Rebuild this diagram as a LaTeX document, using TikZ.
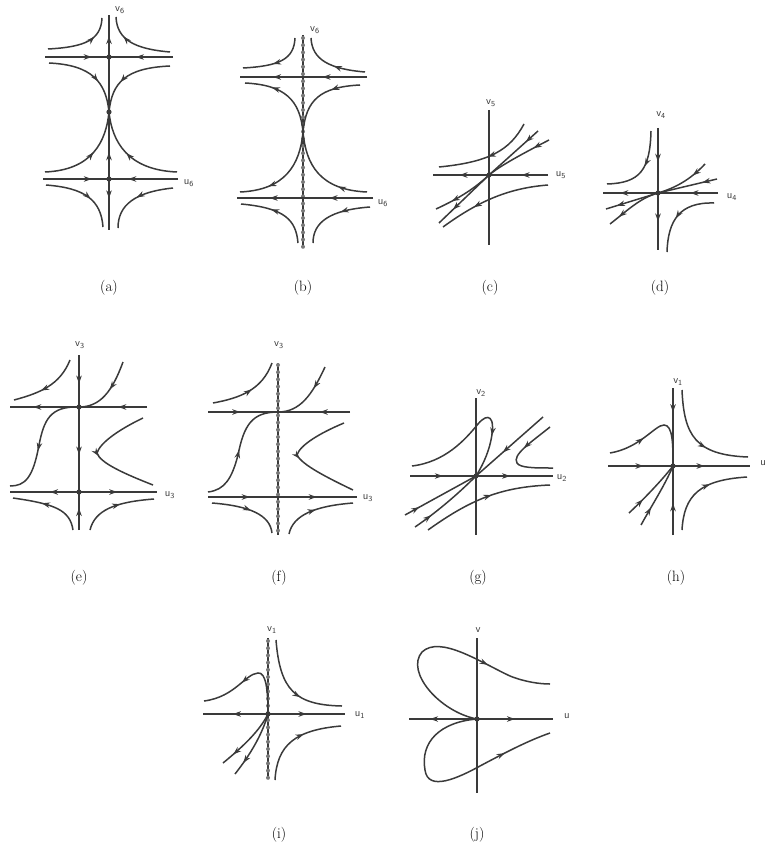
\documentclass[tikz,border=0pt]{standalone}
\usepackage{tikz}
\usetikzlibrary{arrows.meta,decorations.markings}
\definecolor{ink}{HTML}{3A3A3A}
\definecolor{bead}{HTML}{7A7A7A}

\begin{document}
\begin{tikzpicture}[x=1pt,y=-1pt,
			traj/.style={color=ink,line width=1.5pt},
			midarr/.style={postaction={decorate,decoration={markings,mark=at position #1 with {\arrow{Stealth[length=8pt,width=5.5pt,inset=2.5pt]}}}}},
			axlab/.style={font=\fontsize{11}{12}\sffamily\selectfont,text=ink,inner sep=1pt},
			captxt/.style={font=\fontsize{15}{17}\selectfont,inner sep=1pt}
			]
			\useasboundingbox (0,0) rectangle (767,853);
			% (a)
			\coordinate (aO) at (109,112);
			\coordinate (aT) at (109,57);
			\coordinate (aB) at (109,179);
			\draw[traj,midarr=0.5] (aT) -- (109,15);
			\draw[traj] (aT) -- (aO);
			\draw[traj,midarr=0.4] (aB) -- (aO);
			\draw[traj,midarr=0.38] (aB) -- (109,230);
			\draw[traj,midarr=0.73] (45,57) -- (aT);
			\draw[traj,midarr=0.58] (173,57) -- (aT);
			\draw[traj,midarr=0.74] (43,179) -- (aB);
			\draw[traj,midarr=0.72] (178,179) -- (aB);
			\draw[traj,midarr=0.7] (48,49) .. controls (85,47) and (101,40) .. (102,18);
			\draw[traj,midarr=0.7] (170,52) .. controls (135,49) and (117,40) .. (116,17);
			\draw[traj,midarr=0.62] (49,63) .. controls (92,65) and (106,82) .. (aO);
			\draw[traj,midarr=0.62] (170,66) .. controls (126,68) and (112,82) .. (aO);
			\draw[traj,midarr=0.55] (45,172) .. controls (92,170) and (106,142) .. (aO);
			\draw[traj,midarr=0.55] (177,172) .. controls (128,170) and (112,142) .. (aO);
			\draw[traj,midarr=0.6] (46,185) .. controls (85,188) and (101,200) .. (103,227);
			\draw[traj,midarr=0.5] (173,188) .. controls (135,192) and (118,205) .. (118,228);
			\foreach \p in {aO,aT,aB} \fill[ink] (\p) circle (2.6pt);
			\node[axlab] (va) at (120,10) {v\textsubscript{6}};
			\node[axlab] (ua) at (189,183) {u\textsubscript{6}};
			\node[captxt] (capa) at (109,288) {(a)};
			% (b)
			\coordinate (bO) at (303,132);
			\draw[traj] (303,35) -- (303,248);
			\foreach \k in {0,...,29} \fill[bead] (303,38+7.2*\k) circle (2pt);
			\draw[traj,midarr=0.35,midarr=0.74] (367,77) -- (240,77);
			\draw[traj,midarr=0.32,midarr=0.76] (373,198) -- (237,198);
			\draw[traj,midarr=0.55] (295,38) .. controls (294,59) and (280,66) .. (243,68);
			\draw[traj,midarr=0.45] (365,72) .. controls (330,69) and (312,60) .. (311,38);
			\draw[traj,midarr=0.68] (bO) .. controls (300,100) and (285,85) .. (245,83);
			\draw[traj,midarr=0.35] (360,85) .. controls (320,87) and (306,100) .. (bO);
			\draw[traj,midarr=0.7] (bO) .. controls (300,165) and (285,190) .. (240,192);
			\draw[traj,midarr=0.3] (367,192) .. controls (320,190) and (306,165) .. (bO);
			\draw[traj,midarr=0.6] (298,243) .. controls (296,220) and (285,208) .. (241,204);
			\draw[traj,midarr=0.4] (370,207) .. controls (330,210) and (313,222) .. (313,243);
			\node[axlab] (vb) at (315,30) {v\textsubscript{6}};
			\node[axlab] (ub) at (383,203) {u\textsubscript{6}};
			\node[captxt] (capb) at (303,288) {(b)};
			% (c)
			\coordinate (cO) at (489,175);
			\draw[traj] (489,110) -- (489,245);
			\draw[traj,midarr=0.23,midarr=0.77] (548,175) -- (433,175);
			\draw[traj,midarr=0.5] (524,124) .. controls (510,150) and (490,162) .. (439,167);
			\draw[traj,midarr=0.68] (548,185) .. controls (510,188) and (480,200) .. (443,227);
			\draw[traj,midarr=0.25] (538,131) -- (cO);
			\draw[traj,midarr=0.72] (cO) -- (439,223);
			\draw[traj,midarr=0.25] (549,140) .. controls (520,155) and (500,166) .. (cO);
			\draw[traj,midarr=0.72] (cO) .. controls (475,188) and (460,198) .. (436,209);
			\fill[ink] (cO) circle (2.6pt);
			\node[axlab] (vc) at (491,103) {v\textsubscript{5}};
			\node[axlab] (uc) at (561,175) {u\textsubscript{5}};
			\node[captxt] (capc) at (490,288) {(c)};
			% (d)
			\coordinate (dO) at (658,193);
			\draw[traj,midarr=0.52] (658,128) -- (dO);
			\draw[traj,midarr=0.5] (dO) -- (658,250);
			\draw[traj,midarr=0.24,midarr=0.85] (718,193) -- (603,193);
			\draw[traj,midarr=0.45] (651,131) .. controls (650,170) and (640,183) .. (607,184);
			\draw[traj,midarr=0.55] (714,203) .. controls (680,202) and (668,220) .. (667,252);
			\draw[traj,midarr=0.25] (717,179) -- (dO);
			\draw[traj,midarr=0.79] (dO) -- (606,209);
			\draw[traj,midarr=0.3] (705,164) .. controls (690,180) and (675,188) .. (dO);
			\draw[traj,midarr=0.8] (dO) .. controls (640,198) and (628,210) .. (610,224);
			\fill[ink] (dO) circle (2.6pt);
			\node[axlab] (vd) at (661,115) {v\textsubscript{4}};
			\node[axlab] (ud) at (732,197) {u\textsubscript{4}};
			\node[captxt] (capd) at (660,288) {(d)};
			% (e)
			\coordinate (eU) at (79,407);
			\coordinate (eL) at (79,492);
			\draw[traj,midarr=0.55] (79,355) -- (eU);
			\draw[traj,midarr=0.56] (eU) -- (eL);
			\draw[traj,midarr=0.58] (79,530) -- (eL);
			\draw[traj,midarr=0.21,midarr=0.83] (147,407) -- (10,407);
			\draw[traj,midarr=0.42] (eL) -- (10,492);
			\draw[traj,midarr=0.49] (eL) -- (157,492);
			\draw[traj,midarr=0.6] (70,360) .. controls (60,385) and (40,393) .. (14,400);
			\draw[traj,midarr=0.45] (123,362) .. controls (112,392) and (100,407) .. (eU);
			\draw[traj,midarr=0.58] (eU) .. controls (50,406) and (44,420) .. (39,445) .. controls (33,478) and (25,486) .. (10,486);
			\draw[traj,midarr=0.5] (143,418) .. controls (118,430) and (100,443) .. (97,453) .. controls (100,463) and (125,474) .. (153,485);
			\draw[traj,midarr=0.6] (73,530) .. controls (70,510) and (55,504) .. (13,498);
			\draw[traj,midarr=0.55] (90,530) .. controls (95,510) and (115,502) .. (154,499);
			\foreach \p in {eU,eL} \fill[ink] (\p) circle (2.6pt);
			\node[axlab] (ve) at (80,345) {v\textsubscript{3}};
			\node[axlab] (ue) at (170,495) {u\textsubscript{3}};
			\node[captxt] (cape) at (79,578) {(e)};
			% (f)
			\coordinate (fU) at (278,412);
			\coordinate (fL) at (278,497);
			\draw[traj] (278,363) -- (278,535);
			\foreach \k in {0,...,23} \fill[bead] (278,365+7.2*\k) circle (2pt);
			\draw[traj,midarr=0.46] (208,412) -- (fU);
			\draw[traj,midarr=0.42] (350,412) -- (fU);
			\draw[traj,midarr=0.28,midarr=0.73] (208,497) -- (357,497);
			\draw[traj,midarr=0.55] (213,403) .. controls (240,398) and (262,390) .. (272,363);
			\draw[traj,midarr=0.35] (325,367) .. controls (312,395) and (300,412) .. (fU);
			\draw[traj,midarr=0.48] (208,492) .. controls (225,490) and (232,478) .. (238,455) .. controls (244,425) and (252,412) .. (fU);
			\draw[traj,midarr=0.5] (344,423) .. controls (320,433) and (300,445) .. (297,455) .. controls (302,465) and (328,478) .. (353,490);
			\draw[traj,midarr=0.55] (212,503) .. controls (250,506) and (270,515) .. (272,533);
			\draw[traj,midarr=0.5] (289,534) .. controls (293,515) and (315,506) .. (353,503);
			\node[axlab] (vf) at (279,345) {v\textsubscript{3}};
			\node[axlab] (uf) at (368,498) {u\textsubscript{3}};
			\node[captxt] (capf) at (279,578) {(f)};
			% (g)
			\coordinate (gO) at (476,476);
			\draw[traj] (476,398) -- (476,535);
			\draw[traj,midarr=0.23,midarr=0.7] (410,476) -- (553,476);
			\draw[traj,midarr=0.72] (412,466) .. controls (445,462) and (465,440) .. (478,424) .. controls (488,412) and (496,416) .. (491,440) .. controls (488,455) and (481,468) .. (gO);
			\draw[traj,midarr=0.6] (543,417) -- (gO);
			\draw[traj,midarr=0.2] (405,515) -- (gO);
			\draw[traj,midarr=0.25] (415,527) .. controls (440,510) and (462,490) .. (gO);
			\draw[traj,midarr=0.55] (428,530) .. controls (470,500) and (500,487) .. (550,485);
			\draw[traj,midarr=0.38] (550,427) .. controls (530,443) and (512,455) .. (517,463) .. controls (520,468) and (535,468) .. (553,468);
			\fill[ink] (gO) circle (2.6pt);
			\node[axlab] (vg) at (481,393) {v\textsubscript{2}};
			\node[axlab] (ug) at (562,478) {u\textsubscript{2}};
			\node[captxt] (capg) at (478,578) {(g)};
			% (h)
			\coordinate (hO) at (673,466);
			\draw[traj,midarr=0.31] (673,388) -- (hO);
			\draw[traj,midarr=0.46] (673,535) -- (hO);
			\draw[traj,midarr=0.25,midarr=0.68] (608,466) -- (750,466);
			\draw[traj,midarr=0.35] (610,453) .. controls (640,448) and (655,425) .. (664,425) .. controls (673,425) and (673,445) .. (hO);
			\draw[traj,midarr=0.6] (682,390) .. controls (684,435) and (695,455) .. (748,457);
			\draw[traj,midarr=0.6] (682,530) .. controls (684,495) and (700,480) .. (747,477);
			\draw[traj,midarr=0.3] (629,513) .. controls (645,498) and (662,480) .. (hO);
			\draw[traj,midarr=0.3] (641,525) .. controls (652,505) and (665,485) .. (hO);
			\fill[ink] (hO) circle (2.6pt);
			\node[axlab] (vh) at (678,382) {v\textsubscript{1}};
			\node[axlab] (uh) at (763,463) {u};
			\node[captxt] (caph) at (676,578) {(h)};
			% (i)
			\coordinate (iO) at (268,714);
			\draw[traj] (268,638) -- (268,778);
			\foreach \k in {0,...,19} \fill[bead] (268,641+7.2*\k) circle (2pt);
			\draw[traj,midarr=0.54] (iO) -- (203,714);
			\draw[traj,midarr=0.5] (iO) -- (345,714);
			\draw[traj,midarr=0.6] (iO) .. controls (268,690) and (266,672) .. (258,673) .. controls (245,674) and (235,697) .. (204,701);
			\draw[traj,midarr=0.6] (276,640) .. controls (280,690) and (295,705) .. (342,706);
			\draw[traj,midarr=0.6] (275,780) .. controls (277,745) and (295,730) .. (341,726);
			\draw[traj,midarr=0.8] (iO) .. controls (260,730) and (245,745) .. (223,763);
			\draw[traj,midarr=0.8] (iO) .. controls (262,735) and (250,755) .. (235,774);
			\fill[ink] (iO) circle (2.6pt);
			\node[axlab] (vi) at (272,630) {v\textsubscript{1}};
			\node[axlab] (ui) at (360,715) {u\textsubscript{1}};
			\node[captxt] (capi) at (279,835) {(i)};
			% (j)
			\coordinate (jO) at (477,719);
			\draw[traj] (477,638) -- (477,793);
			\draw[traj,midarr=0.69] (jO) -- (409,719);
			\draw[traj,midarr=0.5] (jO) -- (553,719);
			\draw[traj,midarr=0.72] (jO) .. controls (440,712) and (405,672) .. (422,652) .. controls (440,635) and (480,662) .. (510,676) .. controls (525,682) and (540,684) .. (550,684);
			\draw[traj,midarr=0.78] (jO) .. controls (440,722) and (420,742) .. (425,770) .. controls (428,792) and (458,778) .. (480,766) .. controls (510,750) and (530,740) .. (550,733);
			\fill[ink] (jO) circle (2.6pt);
			\node[axlab] (vj) at (478,630) {v};
			\node[axlab] (uj) at (567,716) {u};
			\node[captxt] (capj) at (477,835) {(j)};
		\end{tikzpicture}
\end{document}
